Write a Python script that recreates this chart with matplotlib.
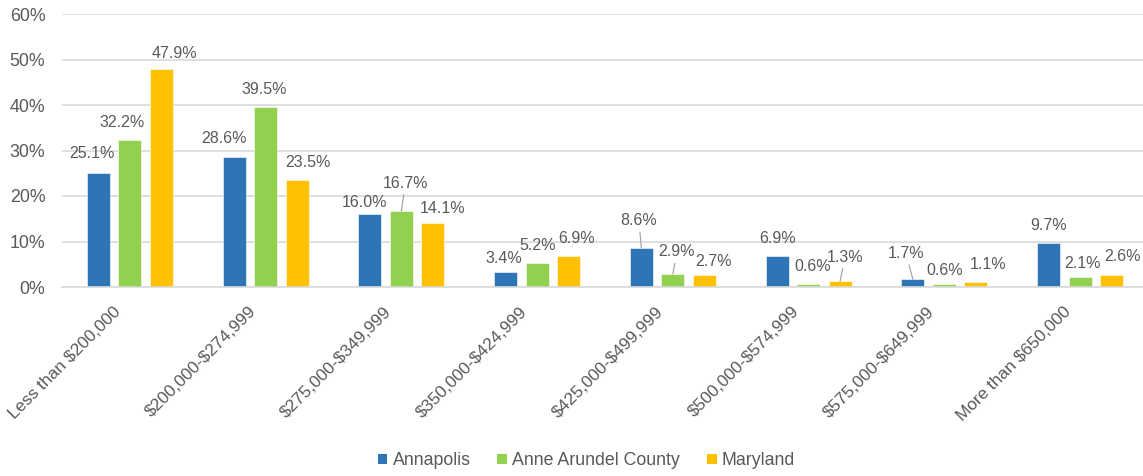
#!/usr/bin/env python3
"""Grouped bar chart of home sale prices by price band for Annapolis, the county and the state."""

import matplotlib.pyplot as plt
import numpy as np
from matplotlib.patches import Patch
from matplotlib.transforms import ScaledTranslation

plt.rcParams["font.family"] = ["Liberation Sans", "DejaVu Sans"]
plt.rcParams["text.parse_math"] = False

CATEGORIES = [
    "Less than $200,000",
    "$200,000-$274,999",
    "$275,000-$349,999",
    "$350,000-$424,999",
    "$425,000-$499,999",
    "$500,000-$574,999",
    "$575,000-$649,999",
    "More than $650,000",
]
SERIES = ["Annapolis", "Anne Arundel County", "Maryland"]
ANNAPOLIS = [25.1, 28.6, 16.0, 3.4, 8.6, 6.9, 1.7, 9.7]
ANNE_ARUNDEL = [32.2, 39.5, 16.7, 5.2, 2.9, 0.6, 0.6, 2.1]
MARYLAND = [47.9, 23.5, 14.1, 6.9, 2.7, 1.3, 1.1, 2.6]

COLORS = ["#2E75B6", "#92D050", "#FFC000"]
TEXT_COLOR = "#595959"
GRID_COLOR = "#D9D9D9"

# label placement relative to the top of each bar, in pixels (dx, dy up),
# plus whether a leader line is drawn back to the bar
LABEL_OFFSETS = {
    0: [(-6, 19), (-10, 18), (-5, 12), (-2, 13.5), (-2.5, 27), (0, 17), (-7, 26), (0, 17)],
    1: [(-7.5, 17.5), (-1, 18), (4, 28), (0, 17.5), (4, 22), (4.5, 18), (0, 14), (2.5, 14)],
    2: [(13, 16), (11, 18), (10, 14), (8, 17.5), (9, 13), (5, 24), (12, 17.5), (11, 18.5)],
}
LEADERS = {(1, 2), (0, 4), (1, 4), (2, 5), (0, 6)}


def main() -> int:
    fig = plt.figure(figsize=(11.43, 4.76), dpi=100)
    ax = fig.add_axes([62 / 1143, 189 / 476, 1086 / 1143, 273 / 476])

    x = np.arange(len(CATEGORIES))
    width = 0.17
    step = 0.232
    values = [ANNAPOLIS, ANNE_ARUNDEL, MARYLAND]

    for s, (name, vals, color) in enumerate(zip(SERIES, values, COLORS)):
        xs = x + (s - 1) * step
        ax.bar(xs, vals, width=width, color=color, edgecolor="white",
               linewidth=0.4, label=name, zorder=2)
        for i, (xi, v) in enumerate(zip(xs, vals)):
            dx, dy = LABEL_OFFSETS[s][i]
            kwargs = {}
            if (s, i) in LEADERS:
                kwargs["arrowprops"] = dict(arrowstyle="-", color="#A6A6A6",
                                            lw=0.9, shrinkA=1, shrinkB=0)
            ax.annotate(f"{v:.1f}%", xy=(xi, v), xytext=(dx, dy),
                        textcoords="offset pixels", ha="center", va="center",
                        fontsize=11.5, color=TEXT_COLOR, **kwargs)

    ax.set_xlim(-0.5, len(CATEGORIES) - 0.5)
    ax.set_ylim(0, 60)
    ax.set_yticks(range(0, 61, 10))
    ax.set_yticklabels([f"{t}%" for t in range(0, 61, 10)])
    ax.yaxis.grid(True, color=GRID_COLOR, linewidth=1.2, zorder=0)
    ax.set_axisbelow(True)
    for side in ["top", "right", "left"]:
        ax.spines[side].set_visible(False)
    ax.spines["bottom"].set_color(GRID_COLOR)
    ax.spines["bottom"].set_linewidth(1.2)
    ax.tick_params(axis="y", length=0, pad=12, labelsize=12.8, labelcolor=TEXT_COLOR)
    ax.tick_params(axis="x", length=0, pad=16, labelsize=12.4, labelcolor=TEXT_COLOR)

    ax.set_xticks(x)
    ax.set_xticklabels(CATEGORIES, rotation=45, ha="right", va="center",
                       rotation_mode="anchor")
    shift = ScaledTranslation(-12 / 100, 0, fig.dpi_scale_trans)
    for lbl in ax.get_xticklabels():
        lbl.set_transform(lbl.get_transform() + shift)

    handles = [Patch(facecolor=c, label=n) for n, c in zip(SERIES, COLORS)]
    fig.legend(handles=handles, loc="center", bbox_to_anchor=(0.513, 0.032),
               ncol=3, frameon=False, fontsize=12.8, labelcolor=TEXT_COLOR,
               handlelength=0.55, handleheight=0.55, handletextpad=0.3,
               columnspacing=1.5)

    fig.savefig("out.png", dpi=100)
    plt.close(fig)
    return 0


if __name__ == "__main__":
    raise SystemExit(main())
